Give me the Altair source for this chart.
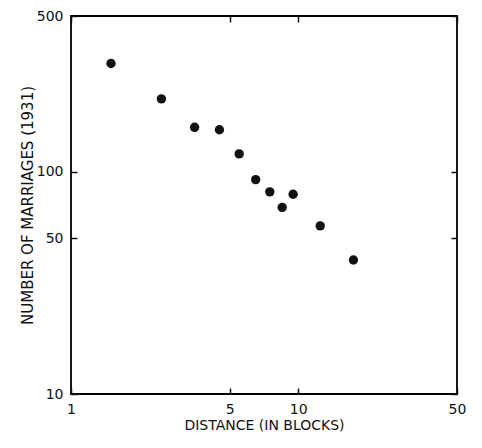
import altair as alt
import pandas as pd

distance = [1.5, 2.5, 3.5, 4.5, 5.5, 6.5, 7.5, 8.5, 9.5, 12.5, 17.5]
marriages = [306, 212, 158, 154, 120, 92, 81, 69, 79, 57, 40]
x_ticks = [1, 5, 10, 50]
y_ticks = [10, 50, 100, 500]
x_title = "DISTANCE (IN BLOCKS)"
y_title = "NUMBER OF MARRIAGES (1931)"

df = pd.DataFrame({"distance": distance, "marriages": marriages})

FONT = "DejaVu Sans"
INK = "#111111"
TICK = {"expr": "-6"}

xs = alt.Scale(type="log", domain=[1, 50], nice=False)
ys = alt.Scale(type="log", domain=[10, 500], nice=False)

base = alt.Chart(df)

points = base.mark_circle(size=88, color=INK, opacity=1).encode(
    x=alt.X("distance:Q", scale=xs,
            axis=alt.Axis(orient="bottom", values=x_ticks, title=x_title,
                          tickSize=TICK, labelPadding=14, titlePadding=2.5,
                          titleFontSize=14,
                          labelFlush=False, domain=False, grid=False)),
    y=alt.Y("marriages:Q", scale=ys,
            axis=alt.Axis(orient="left", values=y_ticks, title=y_title,
                          tickSize=TICK, labelPadding=14, titlePadding=1,
                          titleFontSize=15,
                          labelFlush=False, domain=False, grid=False)),
)

ghost = base.mark_point(opacity=0).encode(
    x=alt.X("distance:Q", scale=xs,
            axis=alt.Axis(orient="top", values=x_ticks, title=None,
                          labels=False, tickSize=TICK, domain=False, grid=False)),
    y=alt.Y("marriages:Q", scale=ys,
            axis=alt.Axis(orient="right", values=y_ticks, title=None,
                          labels=False, tickSize=TICK, domain=False, grid=False)),
)

chart = (
    alt.layer(points, ghost)
    .resolve_scale(x="shared", y="shared")
    .resolve_axis(x="independent", y="independent")
    .properties(
        width=386,
        height=378,
        autosize=alt.AutoSizeParams(type="none"),
        padding={"left": 63, "top": 8, "right": 17, "bottom": 40},
        background="white",
    )
    .configure_view(stroke="black", strokeWidth=1.8)
    .configure_axis(
        labelFont=FONT, labelFontSize=14, labelColor=INK,
        titleFont=FONT, titleColor=INK, titleFontWeight="normal",
        tickColor=INK, tickWidth=1.5,
    )
)

chart.save("out.html", embed_options={"renderer": "svg", "actions": False})
